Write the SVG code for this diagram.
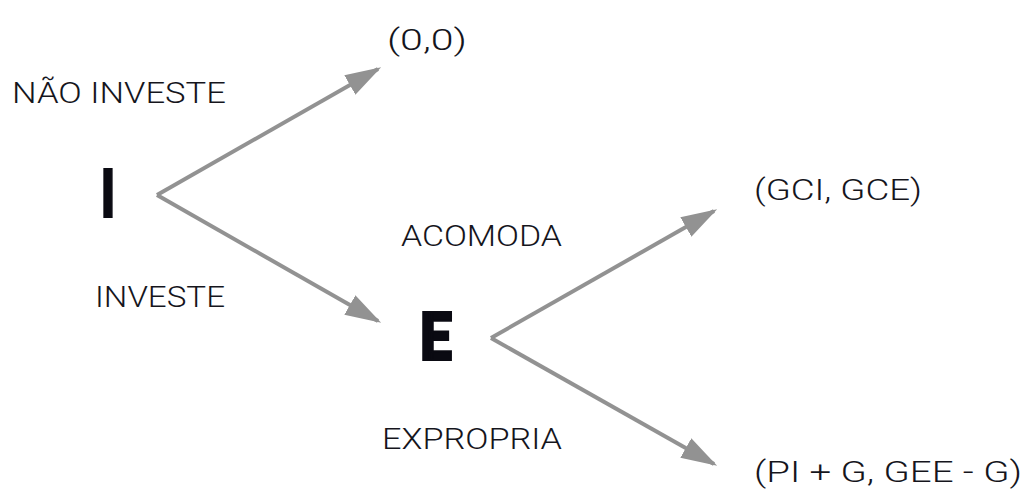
<svg xmlns="http://www.w3.org/2000/svg" width="1025" height="493" viewBox="0 0 1025 493">
<style>
.t{font-family:Roboto,"Liberation Sans",sans-serif;font-size:29px;fill:#15151c;font-weight:300}
.b{font-family:Roboto,"Liberation Sans",sans-serif;font-size:66px;font-weight:900;fill:#0a0a12;stroke:#0a0a12;stroke-width:2}
.c{fill:none;stroke:#929292;stroke-width:4}
</style>
<defs>
<marker id="ah" viewBox="0 0 10 10" refX="9" refY="5" markerWidth="9" markerHeight="9" markerUnits="strokeWidth" orient="auto">
<path d="M0,1.9 L10,5 L0,8.1 z" fill="#929292"/>
</marker>
</defs>
<rect width="1025" height="493" fill="#fff"/>
<g id="connectors">
<path class="c" d="M157,195 L378,69" marker-end="url(#ah)"/>
<path class="c" d="M157,195 L378,321" marker-end="url(#ah)"/>
<path class="c" d="M491,338 L714,211" marker-end="url(#ah)"/>
<path class="c" d="M491,338 L714,464" marker-end="url(#ah)"/>
</g>
<g id="node-I"><text class="b" x="101" y="217" textLength="14" lengthAdjust="spacingAndGlyphs">I</text></g>
<g id="node-E"><text class="b" x="420" y="360" textLength="32" lengthAdjust="spacingAndGlyphs">E</text></g>
<g id="label-nao"><text class="t" x="12" y="103" textLength="214" lengthAdjust="spacingAndGlyphs">NÃO INVESTE</text></g>
<g id="label-investe"><text class="t" x="95" y="307" textLength="130" lengthAdjust="spacingAndGlyphs">INVESTE</text></g>
<g id="label-acomoda"><text class="t" x="401" y="246" textLength="161" lengthAdjust="spacingAndGlyphs">ACOMODA</text></g>
<g id="label-expropria"><text class="t" x="382" y="449" textLength="180" lengthAdjust="spacingAndGlyphs">EXPROPRIA</text></g>
<g id="payoff-00"><text class="t" x="387" y="50" textLength="80" lengthAdjust="spacingAndGlyphs">(0,0)</text></g>
<g id="payoff-gci"><text class="t" x="754" y="200" textLength="168" lengthAdjust="spacingAndGlyphs">(GCI, GCE)</text></g>
<g id="payoff-pi"><text class="t" x="754" y="482" textLength="268" lengthAdjust="spacingAndGlyphs">(PI + G, GEE - G)</text></g>
</svg>
